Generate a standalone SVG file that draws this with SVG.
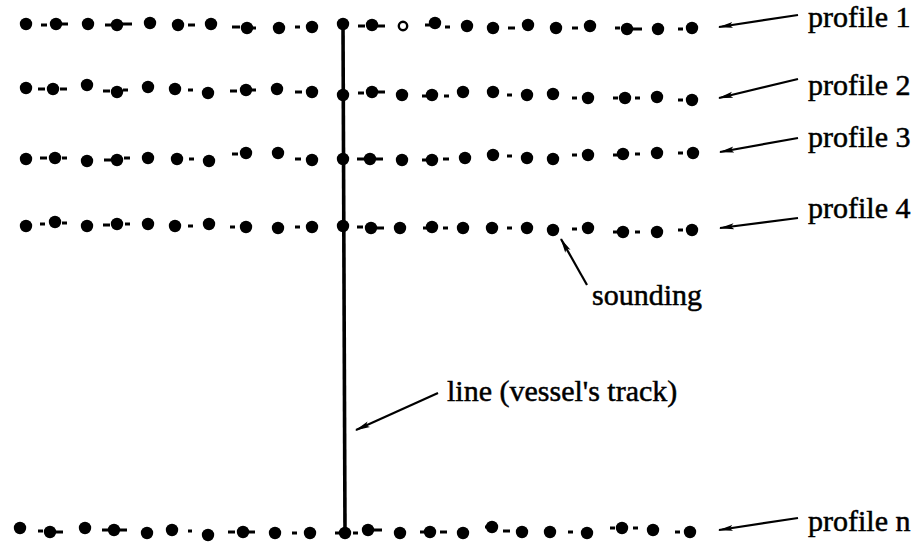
<svg xmlns="http://www.w3.org/2000/svg" width="924" height="546" viewBox="0 0 924 546">
<style>
  .d { fill: #000; }
  .h { fill: #fff; stroke: #000; stroke-width: 2.4; }
  .dash { stroke: #000; stroke-width: 3; fill: none; }
  .arr { stroke: #000; stroke-width: 2.2; fill: none; marker-end: url(#ah); }
  .trk { stroke: #000; stroke-width: 3.6; fill: none; }
  .lbl { font-family: "Liberation Serif", "Times New Roman", serif; font-size: 30px; fill: #000; stroke: #000; stroke-width: 0.5; }
</style>
<defs>
  <marker id="ah" markerWidth="15" markerHeight="8" refX="14" refY="4" orient="auto" markerUnits="userSpaceOnUse">
    <path d="M0,1 L15,4 L0,7 L3,4 z" fill="#000"/>
  </marker>
</defs>
<rect width="924" height="546" fill="#fff"/>

<g id="connectors">
  <path id="track" class="trk" d="M343,24 L345,533"/>
  <path class="arr" d="M798,15 L719,27"/>
  <path class="arr" d="M798,79 L719,98"/>
  <path class="arr" d="M798,138 L720,152"/>
  <path class="arr" d="M798,218 L720,228"/>
  <path class="arr" d="M798,518 L719,530"/>
  <path class="arr" d="M587,285 L561,239"/>
  <path class="arr" d="M438,393 L356,430"/>
</g>

<g id="profile1-row">
  <path class="dash" d="M41,25h6M60,24h8M105,25h6M122,24h10M188,25h7M232,27h8M252,28h4M295,27h5M358,26h7M376,26h9M425,25h5M445,27h5M508,28h7M572,28h6M615,28h5M632,29h10M678,29h5"/>
  <circle class="d" cx="26" cy="24" r="6.2"/><circle class="d" cx="56" cy="24" r="6.2"/><circle class="d" cx="88" cy="24" r="6.2"/><circle class="d" cx="117" cy="25" r="6.2"/><circle class="d" cx="150" cy="23" r="6.2"/><circle class="d" cx="178" cy="25" r="6.2"/><circle class="d" cx="211" cy="24" r="6.2"/><circle class="d" cx="247" cy="28" r="6.2"/><circle class="d" cx="279" cy="28" r="6.2"/><circle class="d" cx="312" cy="27" r="6.2"/><circle class="d" cx="343" cy="24" r="6.2"/>
  <circle class="d" cx="372" cy="25" r="6.2"/><circle class="h" cx="403" cy="26" r="4.2"/><circle class="d" cx="435" cy="23" r="6.2"/><circle class="d" cx="467" cy="26" r="6.2"/><circle class="d" cx="493" cy="28" r="6.2"/><circle class="d" cx="528" cy="25" r="6.2"/><circle class="d" cx="556" cy="28" r="6.2"/><circle class="d" cx="590" cy="26" r="6.2"/><circle class="d" cx="627" cy="29" r="6.2"/><circle class="d" cx="658" cy="29" r="6.2"/><circle class="d" cx="692" cy="28" r="6.2"/>
</g>

<g id="profile2-row">
  <path class="dash" d="M38,89h7M60,89h7M103,91h7M123,90h5M188,90h5M230,91h7M252,90h4M295,92h7M358,93h6M378,92h7M422,96h5M444,96h5M507,95h5M572,98h5M613,98h5M635,98h5M678,100h5"/>
  <circle class="d" cx="26" cy="88" r="6.2"/><circle class="d" cx="53" cy="89" r="6.2"/><circle class="d" cx="87" cy="85" r="6.2"/><circle class="d" cx="117" cy="92" r="6.2"/><circle class="d" cx="148" cy="87" r="6.2"/><circle class="d" cx="175" cy="89" r="6.2"/><circle class="d" cx="208" cy="93" r="6.2"/><circle class="d" cx="246" cy="90" r="6.2"/><circle class="d" cx="277" cy="89" r="6.2"/><circle class="d" cx="312" cy="92" r="6.2"/><circle class="d" cx="343" cy="95" r="6.2"/>
  <circle class="d" cx="372" cy="92" r="6.2"/><circle class="d" cx="402" cy="95" r="6.2"/><circle class="d" cx="432" cy="95" r="6.2"/><circle class="d" cx="463" cy="92" r="6.2"/><circle class="d" cx="493" cy="92" r="6.2"/><circle class="d" cx="527" cy="95" r="6.2"/><circle class="d" cx="553" cy="94" r="6.2"/><circle class="d" cx="588" cy="98" r="6.2"/><circle class="d" cx="625" cy="98" r="6.2"/><circle class="d" cx="657" cy="97" r="6.2"/><circle class="d" cx="692" cy="100" r="6.2"/>
</g>

<g id="profile3-row">
  <path class="dash" d="M40,158h7M62,158h5M104,160h7M124,158h6M189,159h5M232,154h6M295,159h6M357,159h8M376,159h7M422,160h5M443,159h6M507,156h5M572,155h5M613,155h5M635,154h5M678,153h5"/>
  <circle class="d" cx="26" cy="159" r="6.2"/><circle class="d" cx="55" cy="158" r="6.2"/><circle class="d" cx="87" cy="161" r="6.2"/><circle class="d" cx="117" cy="160" r="6.2"/><circle class="d" cx="148" cy="158" r="6.2"/><circle class="d" cx="177" cy="159" r="6.2"/><circle class="d" cx="209" cy="161" r="6.2"/><circle class="d" cx="246" cy="153" r="6.2"/><circle class="d" cx="278" cy="153" r="6.2"/><circle class="d" cx="312" cy="160" r="6.2"/><circle class="d" cx="343" cy="159" r="6.2"/>
  <circle class="d" cx="370" cy="159" r="6.2"/><circle class="d" cx="402" cy="160" r="6.2"/><circle class="d" cx="432" cy="160" r="6.2"/><circle class="d" cx="465" cy="158" r="6.2"/><circle class="d" cx="493" cy="155" r="6.2"/><circle class="d" cx="527" cy="158" r="6.2"/><circle class="d" cx="553" cy="159" r="6.2"/><circle class="d" cx="588" cy="155" r="6.2"/><circle class="d" cx="623" cy="154" r="6.2"/><circle class="d" cx="657" cy="153" r="6.2"/><circle class="d" cx="693" cy="153" r="6.2"/>
</g>

<g id="profile4-row">
  <path class="dash" d="M40,224h5M62,223h5M103,225h7M125,224h5M188,226h5M230,227h5M295,227h5M357,227h6M377,228h7M423,228h5M443,228h5M507,228h5M572,229h5M613,232h5M635,232h5M678,230h5"/>
  <circle class="d" cx="26" cy="226" r="6.2"/><circle class="d" cx="55" cy="222" r="6.2"/><circle class="d" cx="87" cy="226" r="6.2"/><circle class="d" cx="117" cy="224" r="6.2"/><circle class="d" cx="148" cy="224" r="6.2"/><circle class="d" cx="175" cy="226" r="6.2"/><circle class="d" cx="209" cy="224" r="6.2"/><circle class="d" cx="246" cy="227" r="6.2"/><circle class="d" cx="278" cy="228" r="6.2"/><circle class="d" cx="312" cy="227" r="6.2"/><circle class="d" cx="343" cy="226" r="6.2"/>
  <circle class="d" cx="371" cy="228" r="6.2"/><circle class="d" cx="400" cy="228" r="6.2"/><circle class="d" cx="432" cy="227" r="6.2"/><circle class="d" cx="463" cy="228" r="6.2"/><circle class="d" cx="492" cy="228" r="6.2"/><circle class="d" cx="527" cy="228" r="6.2"/><circle id="sounding-dot" class="d" cx="553" cy="230" r="6.2"/><circle class="d" cx="588" cy="228" r="6.2"/><circle class="d" cx="623" cy="232" r="6.2"/><circle class="d" cx="657" cy="232" r="6.2"/><circle class="d" cx="692" cy="230" r="6.2"/>
</g>

<g id="profilen-row">
  <path class="dash" d="M38,531h5M55,532h8M102,530h6M120,530h7M188,531h4M228,532h7M248,532h7M292,533h5M335,533h5M353,533h5M373,530h9M420,532h5M440,532h7M485,527h3M503,531h7M568,532h5M610,528h5M633,528h5M675,532h5"/>
  <circle class="d" cx="20" cy="528" r="6.2"/><circle class="d" cx="50" cy="532" r="6.2"/><circle class="d" cx="85" cy="528" r="6.2"/><circle class="d" cx="114" cy="530" r="6.2"/><circle class="d" cx="147" cy="533" r="6.2"/><circle class="d" cx="172" cy="530" r="6.2"/><circle class="d" cx="208" cy="535" r="6.2"/><circle class="d" cx="243" cy="532" r="6.2"/><circle class="d" cx="275" cy="533" r="6.2"/><circle class="d" cx="310" cy="533" r="6.2"/><circle class="d" cx="345" cy="533" r="6.2"/>
  <circle class="d" cx="368" cy="530" r="6.2"/><circle class="d" cx="400" cy="533" r="6.2"/><circle class="d" cx="430" cy="532" r="6.2"/><circle class="d" cx="463" cy="533" r="6.2"/><circle class="d" cx="492" cy="527" r="6.2"/><circle class="d" cx="522" cy="532" r="6.2"/><circle class="d" cx="550" cy="532" r="6.2"/><circle class="d" cx="587" cy="533" r="6.2"/><circle class="d" cx="622" cy="528" r="6.2"/><circle class="d" cx="653" cy="530" r="6.2"/><circle class="d" cx="690" cy="532" r="6.2"/>
</g>

<g id="label-profile1"><text class="lbl" font-family="Liberation Serif, serif" x="808" y="27">profile 1</text></g>
<g id="label-profile2"><text class="lbl" font-family="Liberation Serif, serif" x="808" y="95">profile 2</text></g>
<g id="label-profile3"><text class="lbl" font-family="Liberation Serif, serif" x="808" y="147">profile 3</text></g>
<g id="label-profile4"><text class="lbl" font-family="Liberation Serif, serif" x="808" y="218">profile 4</text></g>
<g id="label-profilen"><text class="lbl" font-family="Liberation Serif, serif" x="808" y="531">profile n</text></g>
<g id="label-sounding"><text class="lbl" font-family="Liberation Serif, serif" x="592" y="305">sounding</text></g>
<g id="label-line"><text class="lbl" font-family="Liberation Serif, serif" x="447" y="401">line (vessel's track)</text></g>
</svg>
